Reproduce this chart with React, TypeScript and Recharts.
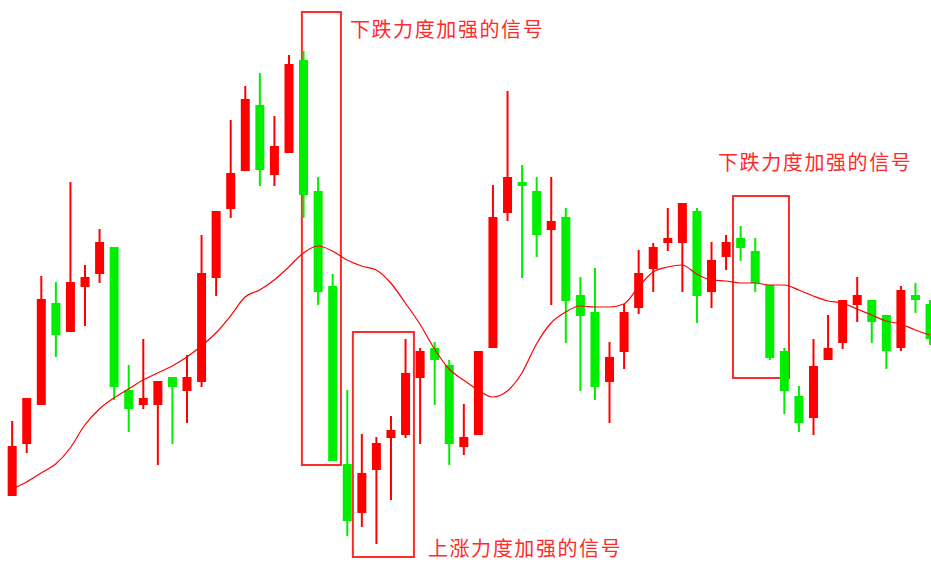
import React from "react";
import { ComposedChart, Bar, Line, XAxis, YAxis, ReferenceArea } from "recharts";

// OHLC per session (index 0..63), plus a moving average line
const opens = [6.4, 11.6, 15.5, 25.7, 22.8, 27.3, 28.6, 31.3, 17.0, 15.5, 15.5, 18.3, 16.9, 17.8, 28.2, 35.1,
  38.9, 45.5, 38.5, 40.7, 50.0, 36.9, 27.4, 9.6, 4.7, 9.0, 12.2, 12.5, 18.2, 21.2, 19.5, 11.3,
  12.5, 21.2, 34.7, 37.8, 36.9, 33.0, 34.3, 26.5, 24.8, 17.8, 20.8, 25.2, 29.1, 31.7, 31.7, 34.9,
  26.8, 30.3, 32.2, 30.9, 27.5, 20.9, 16.4, 14.2, 20.0, 21.7, 25.5, 26.0, 24.5, 21.2, 26.5, 25.6];
const highs = [13.9, 16.2, 28.4, 27.8, 37.8, 29.5, 33.1, 31.3, 19.5, 22.1, 17.9, 18.3, 20.5, 32.5, 34.9, 44.0,
  47.4, 48.7, 44.4, 50.5, 50.9, 38.3, 28.6, 17.0, 12.6, 12.3, 14.4, 22.1, 21.2, 21.8, 20.0, 15.6,
  20.9, 37.5, 46.9, 39.5, 38.3, 38.3, 35.2, 28.3, 29.2, 21.8, 25.6, 31.0, 31.7, 35.2, 35.7, 35.2,
  31.8, 32.5, 33.4, 32.2, 27.5, 21.2, 17.4, 22.1, 24.5, 26.0, 28.3, 26.0, 24.5, 27.4, 27.7, 26.0];
const lows = [6.4, 10.7, 15.5, 20.3, 22.8, 23.4, 27.7, 16.0, 12.8, 15.1, 9.5, 11.6, 13.7, 17.3, 26.4, 34.2,
  38.9, 37.4, 37.4, 40.7, 34.2, 25.5, 9.9, 2.4, 3.3, 1.6, 6.0, 12.2, 11.6, 15.5, 9.5, 10.5,
  12.5, 21.2, 33.9, 28.2, 30.3, 25.5, 21.7, 16.9, 16.0, 13.7, 19.1, 24.6, 26.8, 30.9, 26.8, 23.7,
  25.2, 29.0, 29.9, 26.8, 20.0, 14.6, 12.8, 12.5, 20.0, 21.1, 23.8, 21.7, 19.1, 20.9, 24.7, 21.5];
const closes = [11.4, 16.2, 26.1, 22.5, 27.8, 28.3, 31.8, 17.3, 15.1, 16.2, 17.9, 17.3, 18.3, 28.7, 34.9, 38.7,
  46.1, 39.0, 41.4, 49.6, 36.5, 26.8, 9.9, 3.9, 8.7, 11.7, 13.0, 18.7, 20.9, 20.0, 11.6, 12.3,
  20.9, 34.3, 38.3, 37.4, 32.5, 33.9, 25.9, 24.4, 17.3, 20.3, 24.8, 28.7, 31.3, 32.2, 35.7, 26.4,
  30.0, 31.8, 31.2, 27.7, 20.2, 16.9, 13.7, 19.4, 21.2, 26.0, 26.5, 23.8, 20.9, 27.0, 26.0, 22.1];
const movingAvg = [7.1, 7.8, 8.7, 9.6, 11.2, 13.5, 15.1, 16.2, 17.1, 18.0, 18.7, 19.4, 20.3, 21.4, 22.7, 24.4,
  26.3, 27.0, 28.0, 29.3, 30.7, 31.4, 30.9, 30.0, 29.4, 29.0, 27.7, 25.7, 23.6, 21.1, 19.1, 18.0,
  17.0, 16.3, 16.9, 18.7, 21.6, 23.7, 24.8, 25.4, 25.3, 25.3, 25.6, 27.3, 28.8, 29.3, 29.5, 28.6,
  28.0, 27.9, 27.7, 27.7, 27.5, 27.5, 27.0, 26.4, 25.9, 25.7, 25.1, 24.5, 23.9, 23.6, 23.0, 22.5];

// annotation boxes in data units (index, price)
const signalBoxes = [
  { x1: 19.9, x2: 22.58, y1: 9.5, y2: 54.8, text: "下跌力度加强的信号", where: "rightTop" },
  { x1: 23.4, x2: 27.59, y1: 0.3, y2: 22.8, text: "上涨力度加强的信号", where: "rightBottom" },
  { x1: 49.49, x2: 53.33, y1: 18.2, y2: 36.4, text: "下跌力度加强的信号", where: "above" },
];

const UP = "#ff0000";
const DOWN = "#00ee00";
const MARK = "#ff2a2a";

const data = opens.map((o, i) => ({
  i,
  open: o,
  high: highs[i],
  low: lows[i],
  close: closes[i],
  ma: movingAvg[i],
}));

function Candle(props: any) {
  const { x, y, width, height, payload } = props;
  if (x == null || y == null) return null;
  const top = Math.min(y, y + height);
  const h = Math.abs(height);
  const { open, close, high, low } = payload;
  const k = high - low > 0 ? h / (high - low) : 0;
  const yOf = (v: number) => top + (high - v) * k;
  const color = close >= open ? UP : DOWN;
  const cx = x + width / 2;
  const bTop = yOf(Math.max(open, close));
  const bBot = yOf(Math.min(open, close));
  return (
    <g>
      <line x1={cx} x2={cx} y1={top} y2={top + h} stroke={color} strokeWidth={2} />
      <rect x={x} y={bTop} width={width} height={Math.max(2, bBot - bTop)} fill={color} />
    </g>
  );
}

const labelFor = (text: string, where: string) => (p: any) => {
  const vb = p.viewBox || {};
  let tx = vb.x + vb.width + 9;
  let ty = vb.y + 16.5;
  if (where === "rightBottom") {
    tx = vb.x + vb.width + 14;
    ty = vb.y + vb.height - 10;
  } else if (where === "above") {
    tx = vb.x - 15;
    ty = vb.y - 35;
  }
  return (
    <text
      x={tx}
      y={ty}
      fill={MARK}
      fontSize={20}
      letterSpacing={1.6}
      dominantBaseline="central"
      fontFamily="'Noto Sans CJK SC', 'Noto Sans', sans-serif"
    >
      {text}
    </text>
  );
};

export default function App() {
  return (
    <div style={{ position: "absolute", left: 0, top: 0, width: 931, height: 562, background: "#fff" }}>
      <ComposedChart width={931} height={562} data={data} margin={{ top: 0, right: 0, bottom: 0, left: 0 }}>
        <XAxis type="number" dataKey="i" domain={[-0.82, 63.08]} hide allowDataOverflow />
        <YAxis type="number" domain={[-0.2, 56]} hide allowDataOverflow />
        <Bar
          dataKey={(d: any) => [d.low, d.high]}
          barSize={9}
          shape={Candle}
          isAnimationActive={false}
        />
        <Line
          dataKey="ma"
          type="monotone"
          stroke={UP}
          strokeWidth={1.2}
          dot={false}
          activeDot={false}
          isAnimationActive={false}
        />
        {signalBoxes.map((b, k) => (
          <ReferenceArea
            key={k}
            x1={b.x1}
            x2={b.x2}
            y1={b.y1}
            y2={b.y2}
            fill="none"
            fillOpacity={0}
            stroke={MARK}
            strokeWidth={2}
            ifOverflow="visible"
            label={labelFor(b.text, b.where)}
          />
        ))}
      </ComposedChart>
    </div>
  );
}
